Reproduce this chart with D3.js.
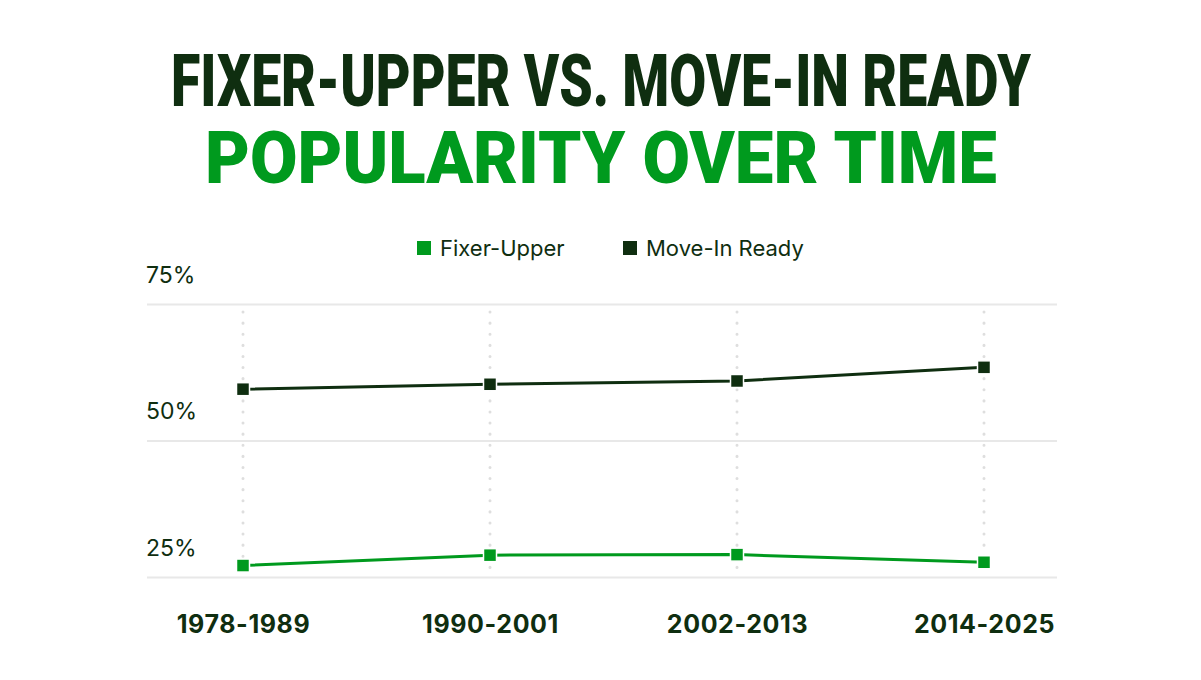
<!DOCTYPE html>
<html>
<head>
<meta charset="utf-8">
<script src="https://cdn.jsdelivr.net/npm/d3@7"></script>
<style>
  body { margin: 0; background: #fff; }
  svg { display: block; }
</style>
</head>
<body>
<script>
// datos del grafico
var periods = ["1978-1989", "1990-2001", "2002-2013", "2014-2025"];
var fixerUpper = [27.1, 29.0, 29.1, 27.7];
var moveInReady = [59.4, 60.3, 60.9, 63.4];
var yTicks = [25, 50, 75];
var seriesNames = ["Fixer-Upper", "Move-In Ready"];
var titleLines = ["FIXER-UPPER VS. MOVE-IN READY", "POPULARITY OVER TIME"];

var w = 1201;
var h = 680;
var dark = "#0f2e10";
var green = "#009a1e";

var svg = d3.select("body")
  .append("svg")
    .attr("width", w)
    .attr("height", h);

// titulo: se estrecha con scale para imitar una fuente condensada
var titleSpec = [
  { text: titleLines[0], left: 171, right: 1031, base: 106, color: dark },
  { text: titleLines[1], left: 205, right: 997, base: 183, color: green }
];
titleSpec.forEach(function(t) {
  var g = svg.append("g");
  var txt = g.append("text")
    .attr("x", 0).attr("y", 0)
    .style("font-family", "Roboto").style("font-weight", 900)
    .style("font-size", "72px").attr("fill", t.color)
    .text(t.text);
  var tw = txt.node().getComputedTextLength();
  var k = (t.right - t.left) / tw;
  g.attr("transform", "translate(" + t.left + "," + t.base + ") scale(" + k + ",1)");
});

// escalas
var x = d3.scalePoint().domain(periods).range([243, 984]);
var y = d3.scaleLinear().domain([25, 75]).range([577, 304]);

// lineas verticales punteadas
svg.append("g")
  .selectAll("line")
  .data(periods)
  .enter()
    .append("line")
    .attr("x1", function(d) { return x(d); })
    .attr("x2", function(d) { return x(d); })
    .attr("y1", y(75) + 8)
    .attr("y2", y(25) - 4)
    .attr("stroke", "#dedede")
    .attr("stroke-width", 3)
    .attr("stroke-linecap", "round")
    .attr("stroke-dasharray", "0.1 11");

// rejilla horizontal y etiquetas del eje y
var yAxis = svg.append("g")
  .attr("transform", "translate(147,0)")
  .call(d3.axisRight(y).tickValues(yTicks).tickSize(910).tickFormat(function(d) { return d + "%"; }));
yAxis.select(".domain").remove();
yAxis.selectAll(".tick line").attr("stroke", "#e8e8e8").attr("stroke-width", 2);
yAxis.selectAll(".tick text")
  .attr("x", -1).attr("dy", -22).attr("text-anchor", "start")
  .style("font-family", "Inter").style("font-size", "23px")
  .attr("fill", dark);

// eje x
var xAxis = svg.append("g")
  .attr("transform", "translate(0,633)")
  .call(d3.axisBottom(x).tickSize(0));
xAxis.select(".domain").remove();
xAxis.selectAll(".tick text")
  .attr("y", 0).attr("dy", 0)
  .style("font-family", "Inter").style("font-weight", 700)
  .style("font-size", "25px").style("letter-spacing", "0.6px")
  .attr("fill", dark);

// series
var series = [
  { name: seriesNames[0], values: fixerUpper, color: green },
  { name: seriesNames[1], values: moveInReady, color: dark }
];

var line = d3.line()
  .x(function(d, i) { return x(periods[i]); })
  .y(function(d) { return y(d); });

series.forEach(function(s) {
  svg.append("path")
    .attr("d", line(s.values))
    .attr("fill", "none")
    .attr("stroke", s.color)
    .attr("stroke-width", 3);

  svg.append("g")
    .selectAll("rect")
    .data(s.values)
    .enter()
      .append("rect")
      .attr("x", function(d, i) { return x(periods[i]) - 6.5; })
      .attr("y", function(d) { return y(d) - 6.5; })
      .attr("width", 13)
      .attr("height", 13)
      .attr("fill", s.color)
      .attr("stroke", "#fff")
      .attr("stroke-width", 1.5);
});

// leyenda
var legendX = [417, 623];
var legend = svg.append("g")
  .selectAll("g")
  .data(series)
  .enter()
    .append("g")
    .attr("transform", function(d, i) { return "translate(" + legendX[i] + ",241)"; });

legend.append("rect")
  .attr("width", 14).attr("height", 14)
  .attr("fill", function(d) { return d.color; });

legend.append("text")
  .attr("x", 23).attr("y", 15)
  .style("font-family", "Inter").style("font-size", "22px")
  .attr("fill", dark)
  .text(function(d) { return d.name; });
</script>
</body>
</html>
